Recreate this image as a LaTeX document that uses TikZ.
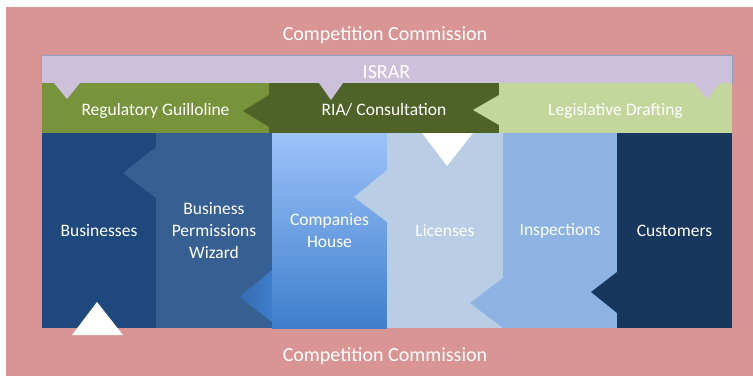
\documentclass[tikz,border=0pt]{standalone}
\usepackage{fontspec}
\setmainfont{Carlito}
\usepackage{tikz}
\usetikzlibrary{positioning,shapes}

\definecolor{commpink}{HTML}{D99594}
\definecolor{israrlav}{HTML}{CCC0DA}
\definecolor{israrline}{HTML}{8FA3C0}
\definecolor{guillgreen}{HTML}{77933C}
\definecolor{riagreen}{HTML}{4F6228}
\definecolor{legisgreen}{HTML}{C3D69B}
\definecolor{busblue}{HTML}{1F497D}
\definecolor{bpwblue}{HTML}{376092}
\definecolor{comptop}{HTML}{9DC3FA}
\definecolor{compbot}{HTML}{3E7ECC}
\definecolor{licblue}{HTML}{B9CDE5}
\definecolor{inspblue}{HTML}{8DB3E2}
\definecolor{custblue}{HTML}{17375E}

\begin{document}
\begin{tikzpicture}[x=1pt,y=-1pt]
	\tikzstyle{title}=[text=white, font=\fontsize{20}{24}\selectfont]
	\tikzstyle{bar}=[rectangle, inner sep=0pt, outer sep=0pt, minimum height=50pt, text height=14pt, text depth=0pt, text=white, font=\fontsize{17.5}{21}\selectfont]
	\tikzstyle{col}=[rectangle, inner sep=0pt, outer sep=0pt, minimum height=195pt, text=white, align=center, font=\fontsize{17.5}{22}\selectfont]

	\useasboundingbox (0,0) rectangle (753,376);
	\fill[commpink] (6,7) rectangle (753,376);

	\node[title] (cctop) at (385,35) {Competition Commission};
	\node[title] (ccbot) at (385,356) {Competition Commission};

	\node[rectangle, inner sep=0pt, outer sep=0pt, minimum width=691pt, minimum height=28pt, text height=19pt, text depth=0pt, fill=israrlav, draw=israrline, line width=0.6pt, title] (israr) at (386.5,69) {ISRAR};

	% middle row
	\node[bar, fill=guillgreen, minimum width=227pt] (guill) at (155.5,108) {Regulatory Guilloline};
	\node[bar, fill=riagreen, minimum width=230pt] (ria) [right=0pt of guill] {RIA/ Consultation};
	\node[bar, fill=legisgreen, minimum width=233pt] (legis) [right=0pt of ria] {Legislative Drafting};

	% columns
	\node[col, fill=busblue, minimum width=114pt] (bus) at (99,230.5) {Businesses};
	\node[col, fill=bpwblue, minimum width=116pt] (bpw) [right=0pt of bus] {Business\\Permissions\\Wizard};
	\node[col, top color=comptop, bottom color=compbot, minimum width=115pt] (comp) [right=0pt of bpw] {Companies\\House};
	\node[col, fill=licblue, minimum width=116pt] (lic) [right=0pt of comp] {Licenses};
	\node[col, fill=inspblue, minimum width=114pt] (insp) [right=0pt of lic] {Inspections};
	\node[col, fill=custblue, minimum width=115pt] (cust) [right=0pt of insp] {Customers};

	% pointers
	\fill[israrlav] (54,83) -- (67,99) -- (80,83) -- cycle;
	\fill[israrlav] (319,83) -- (331,100) -- (343,83) -- cycle;
	\fill[israrlav] (694,83) -- (707,99) -- (720,83) -- cycle;

	\fill[riagreen] (269,95) -- (243,111) -- (269,127) -- cycle;
	\fill[legisgreen] (499,95) -- (473,110) -- (499,125) -- cycle;

	\fill[bpwblue] (156,147) -- (123,173) -- (156,198) -- cycle;
	\shade[left color=compbot!85!black, right color=compbot] (272,270) -- (239,297) -- (272,322) -- cycle;
	\fill[licblue] (387,170) -- (354,197) -- (387,222) -- cycle;
	\fill[inspblue] (503,278) -- (470,303) -- (503,328) -- cycle;
	\fill[custblue] (617,272) -- (591,292) -- (617,313) -- cycle;

	\fill[white] (422,133) -- (447,166) -- (473,133) -- cycle;
	\fill[white] (72,335) -- (97,302) -- (123,335) -- cycle;
\end{tikzpicture}
\end{document}
